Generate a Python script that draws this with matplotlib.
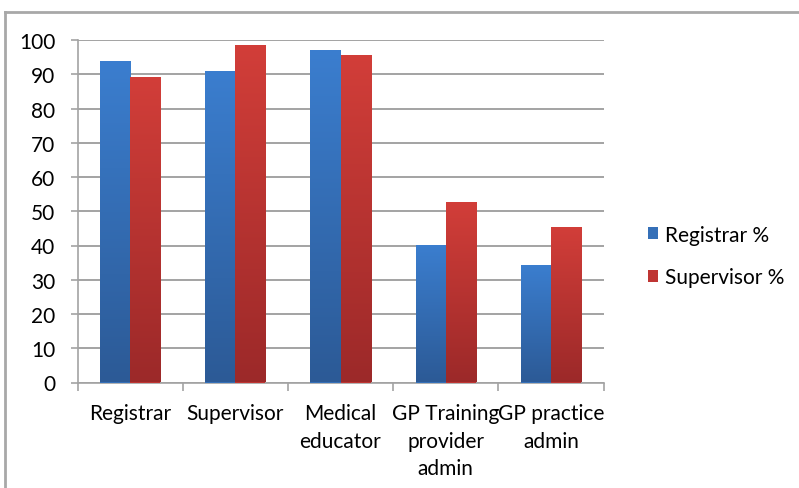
import matplotlib
matplotlib.use("Agg")
import matplotlib.pyplot as plt
import numpy as np
from matplotlib.colors import LinearSegmentedColormap
from matplotlib.lines import Line2D
from matplotlib.patches import Patch

categories = ["Registrar", "Supervisor", "Medical\neducator", "GP Training\nprovider\nadmin", "GP practice\nadmin"]
registrar_pct = [94.0, 91.0, 97.0, 40.1, 34.2]
supervisor_pct = [89.3, 98.5, 95.6, 52.8, 45.3]
series_names = ["Registrar %", "Supervisor %"]
y_ticks = [0, 10, 20, 30, 40, 50, 60, 70, 80, 90, 100]

plt.rcParams['font.family'] = ['Lato', 'DejaVu Sans']

fig = plt.figure(figsize=(7.99, 4.89), dpi=100)
ax = fig.add_axes([77.5/799, (489-383.5)/489, 526/799, 342.5/489])

x = np.arange(len(categories))
w = 0.286
blue_cmap = LinearSegmentedColormap.from_list("b", ["#2c5a96", "#3b7ecf"])
red_cmap = LinearSegmentedColormap.from_list("r", ["#9c2929", "#d23e39"])
grad = np.linspace(0, 1, 256).reshape(-1, 1)

for vals, offs, cmap, solid in [(registrar_pct, -w/2, blue_cmap, "#3570b8"),
                                (supervisor_pct, w/2, red_cmap, "#bf3533")]:
    bars = ax.bar(x + offs, vals, width=w, color=solid, zorder=3, linewidth=0)
    for b in bars:
        bx, by = b.get_x(), b.get_y()
        bw, bh = b.get_width(), b.get_height()
        im = ax.imshow(grad, extent=[bx, bx + bw, by, by + bh], origin="lower",
                       cmap=cmap, aspect="auto", zorder=4)
        im.set_clip_path(b)

ax.set_xlim(-0.5, len(categories) - 0.5)
ax.set_ylim(0, 100)
ax.set_yticks(y_ticks)
ax.yaxis.grid(True, color="#a3a3a3", linewidth=1.4, zorder=0)
ax.set_axisbelow(True)

ax.set_xticks(np.arange(len(categories) + 1) - 0.5)
ax.set_xticklabels([])
ax.set_xticks(x, minor=True)
ax.set_xticklabels(categories, minor=True, fontsize=15, linespacing=1.45, va="top")
ax.tick_params(axis="x", which="minor", length=0, pad=15)
ax.tick_params(axis="x", which="major", length=6, color="#a3a3a3", width=1.2, direction="out")
ax.tick_params(axis="y", length=5, color="#a3a3a3", width=1.2, pad=11, labelsize=15)

for s in ["top", "right"]:
    ax.spines[s].set_visible(False)
for s in ["left", "bottom"]:
    ax.spines[s].set_color("#a3a3a3")
    ax.spines[s].set_linewidth(1.2)

handles = [Patch(facecolor="#3570b8"), Patch(facecolor="#bf3533")]
fig.legend(handles, series_names, loc="center left", bbox_to_anchor=(648/799, 1 - 257/489),
           frameon=False, fontsize=15, handlelength=0.5, handleheight=0.5,
           handletextpad=0.3, labelspacing=1.1, borderpad=0, borderaxespad=0)

# outer frame (partial border visible in the reference)
fig.add_artist(Line2D([5/799, 5/799], [0, 1 - 13/489], transform=fig.transFigure,
                      color="#a8a8a8", linewidth=2))
fig.add_artist(Line2D([5/799, 1], [1 - 13/489, 1 - 13/489], transform=fig.transFigure,
                      color="#a8a8a8", linewidth=2))

fig.savefig("out.png", dpi=100)
